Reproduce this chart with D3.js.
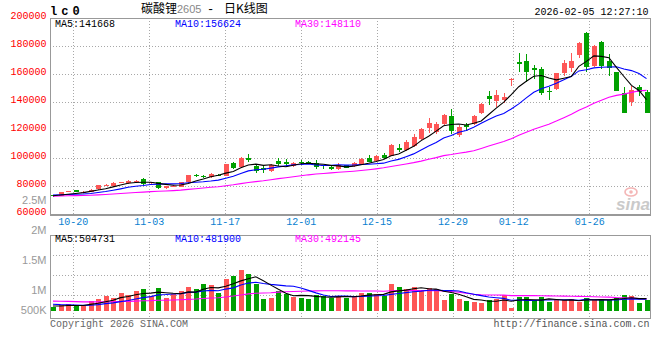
<!DOCTYPE html>
<html><head><meta charset="utf-8">
<script src="https://cdn.jsdelivr.net/npm/d3@7"></script>
<style>body{margin:0;background:#fff}svg{display:block}</style>
</head><body><svg id="c" width="660" height="360"></svg>
<script>
// ---- data ----
const tickLabels = ["10-20","11-03","11-17","12-01","12-15","12-29","01-12","01-26"];
const tickIndex  = [3,13,23,33,43,53,61,71];
const priceTicks = [200000,180000,160000,140000,120000,100000,80000,60000];
const volTicks = [2500000,2000000,1500000,1000000,500000];
const volTickLabels = ["2.5M","2M","1.5M","1M","500K"];
const priceLegend = ["MA5:141668","MA10:156624","MA30:148110"];
const volLegend = ["MA5:504731","MA10:481900","MA30:492145"];

const open  = [73500,73300,76000,77400,76000,75900,77900,80500,80300,82700,82400,83600,85200,82600,82800,78600,80200,79700,82900,88000,
               87600,86400,88300,87600,96600,94000,100200,94700,92900,90900,98000,97300,94500,97500,97200,96900,95000,94000,92100,95000,
               94300,95900,100200,97900,102300,101900,107300,105900,108800,113800,121900,118600,124300,130400,116600,123800,124500,132100,144500,140900,
               141400,156700,169000,169500,164700,163800,148300,149500,160700,164700,173800,189700,166100,182900,169500,161900,146900,140000,151100,147600];
const high  = [74000,76000,76700,77700,76600,77900,81000,81400,83200,83400,84200,84500,85800,83300,83000,80500,81000,83300,88300,88600,
               88300,89800,89000,96200,97500,100800,103000,96200,94300,95800,100000,99300,97600,99000,98000,98500,95500,94500,96500,95500,
               97300,100500,102400,102200,103500,110000,110200,113000,117300,121500,128800,126000,132000,135200,123500,125500,131000,139300,147900,148500,
               147000,157200,175000,174300,166500,165000,151100,161000,170000,175400,183000,190000,181000,183600,174500,162000,151000,151900,152400,148500];
const low   = [72500,73000,75600,75600,75700,75600,77500,80000,80000,82300,82000,83000,81000,82000,78000,78300,79800,79400,82600,86600,
               86200,86000,87300,87300,92500,93600,97600,89800,89800,90500,94500,93600,93500,95400,95800,92500,92300,92000,91500,92800,
               93800,95500,97300,97500,99500,101500,104500,105300,108100,113000,118300,117500,123800,117400,115500,119500,124000,131500,138000,137000,
               139500,151800,161900,154700,157000,145000,141600,148500,159000,161900,171500,162000,165000,163600,158800,148000,132500,137400,144500,132500];
const close = [73000,75900,76300,75900,76200,77600,80700,80700,82700,82900,83800,83700,81500,82800,78600,80200,80400,82900,88100,87400,
               87100,88600,88000,95900,93300,100200,98800,90900,91400,95400,96100,95900,96400,97000,96800,94000,94400,92400,95200,93300,
               96600,99700,97600,101600,100400,109500,106000,111600,115200,120900,125200,124300,130900,119300,122600,122100,130400,138800,142600,145200,
               143800,157000,167100,161900,163300,146400,147900,160700,167900,169500,182600,165400,180400,166100,164800,148300,132600,148800,147600,132600];
const volume = [164000,234000,303000,221000,193000,398000,480000,615000,521000,726000,644000,808000,890000,603000,931000,521000,685000,808000,972000,890000,
                1095000,1054000,726000,1300000,1423000,1669000,1505000,1123000,480000,521000,820000,713000,590000,549000,480000,656000,603000,549000,603000,549000,
                603000,754000,738000,685000,631000,1107000,972000,890000,972000,808000,931000,890000,451000,697000,480000,398000,357000,316000,439000,492000,
                644000,111000,562000,562000,439000,562000,357000,439000,439000,492000,385000,521000,439000,492000,439000,533000,644000,603000,316000,439000];
// sessions before the visible window (estimated so the moving averages start where the picture shows them)
const preCloses = [71800,72300,72600,72100,72900,73300,72800,72400,72200,72700,73000,72500,72100,72400,72900,73100,72600,72300,72200,72600,
                   74000,74600,74800,74200,73900,73600,73400,73300,73200];
const preVolumes = [490000,450000,520000,440000,480000,460000,500000,430000,470000,510000,450000,480000,460000,490000,440000,470000,500000,460000,480000,470000,
                    380000,360000,340000,330000,315000,230000,220000,210000,201000];

// ---- helpers ----
function movingAvg(pre, arr, n){
  const all = pre.concat(arr), off = pre.length;
  return arr.map((_, i) => d3.mean(all.slice(off + i - n + 1, off + i + 1)));
}
const svg = d3.select("#c");
const L = 50, R = 650, mTop = 18.3, mBot = 214.3, vTop = 234.5, vBot = 318, vBase = 311;
const N = close.length;
const xC = d3.scaleLinear().domain([0, N-1]).range([53, 646.5]);
const xG = d3.scaleLinear().domain([0, N-1]).range([L, R]);
const y = d3.scaleLinear().domain([60000, 200000]).range([mBot, mTop]);
const yV = d3.scaleLinear().domain([0, 2000000]).range([vBase, vBase - 48.8]);
const yVLab = d3.scaleLinear().domain([0, 2500000]).range([354, 204]);
const UP = "#fe5656", DOWN = "#00a000";
const MONO = "'Liberation Mono','DejaVu Sans Mono',monospace";
const SANS = "'Liberation Sans',Arial,sans-serif";
const CJK = "'Noto Sans CJK SC',sans-serif";

// ---- header ----
svg.append("text").attr("x", 50).attr("y", 15).attr("font-family", MONO).attr("font-weight", "bold")
  .attr("font-size", 12).attr("letter-spacing", 4).text("lc0");
svg.append("text").attr("x", 141).attr("y", 12.5).attr("font-family", CJK).attr("font-size", 12).text("碳酸锂");
svg.append("text").attr("x", 177).attr("y", 12.5).attr("font-family", SANS).attr("font-size", 11).attr("fill", "#888").text("2605");
svg.append("text").attr("x", 207).attr("y", 12.5).attr("font-family", MONO).attr("font-size", 12).text("-");
svg.append("text").attr("x", 224).attr("y", 12.5).attr("font-family", CJK).attr("font-size", 12).text("日K线图");
svg.append("text").attr("x", 648.5).attr("y", 15).attr("text-anchor", "end").attr("font-family", MONO)
  .attr("font-size", 10).text("2026-02-05 12:27:10");

// ---- grids ----
const g = svg.append("g").attr("shape-rendering", "crispEdges");
priceTicks.filter(v => v < 200000 && v > 60000).forEach(v => {
  g.append("line").attr("x1", L).attr("x2", R).attr("y1", Math.round(y(v)) + 0.5).attr("y2", Math.round(y(v)) + 0.5)
    .attr("stroke", "#a8a8a8").attr("stroke-dasharray", "1,2");
});
tickIndex.forEach(i => {
  const gx = Math.round(xG(i)) + 0.5;
  g.append("line").attr("x1", gx).attr("x2", gx).attr("y1", mTop).attr("y2", mBot).attr("stroke", "#a8a8a8").attr("stroke-dasharray", "1,2");
  g.append("line").attr("x1", gx).attr("x2", gx).attr("y1", vTop).attr("y2", vBot).attr("stroke", "#a8a8a8").attr("stroke-dasharray", "1,2");
});
[255, 275, 295].forEach(yy => {
  g.append("line").attr("x1", L).attr("x2", R).attr("y1", yy + 0.5).attr("y2", yy + 0.5).attr("stroke", "#a8a8a8").attr("stroke-dasharray", "1,2");
});
g.append("rect").attr("x", L + 0.5).attr("y", Math.round(mTop) + 0.5).attr("width", R - L).attr("height", Math.round(mBot) - Math.round(mTop))
  .attr("fill", "none").attr("stroke", "#999");
g.append("line").attr("x1", L).attr("x2", R+1).attr("y1", Math.round(mBot) + 1.5).attr("y2", Math.round(mBot) + 1.5).attr("stroke", "#999");
g.append("rect").attr("x", L + 0.5).attr("y", Math.round(vTop) + 0.5).attr("width", R - L).attr("height", vBot - Math.round(vTop))
  .attr("fill", "none").attr("stroke", "#999");

// ---- axis labels ----
priceTicks.forEach(v => {
  svg.append("text").attr("x", 46.5).attr("y", y(v) + 0.8).attr("text-anchor", "end").attr("font-family", MONO)
    .attr("font-size", 10).attr("fill", "#f00").text(d3.format("d")(v));
});
volTicks.forEach((v, k) => {
  svg.append("text").attr("x", 46.5).attr("y", Math.min(yVLab(v), 314)).attr("text-anchor", "end")
    .attr("font-family", SANS).attr("font-size", 11).attr("fill", "#999").text(volTickLabels[k]);
});
tickIndex.forEach((i, k) => {
  svg.append("text").attr("x", xG(i) + 0.5).attr("y", 224.5).attr("text-anchor", "middle").attr("font-family", MONO)
    .attr("font-size", 10).attr("fill", "#0a7fd0").text(tickLabels[k]);
});

// ---- watermark ----
const wm = svg.append("g").attr("opacity", 0.8);
wm.append("ellipse").attr("cx", 631).attr("cy", 192).attr("rx", 6).attr("ry", 4).attr("fill", "none").attr("stroke", "#f2a4a4").attr("stroke-width", 1.6);
wm.append("circle").attr("cx", 631).attr("cy", 192).attr("r", 1.8).attr("fill", "#f2a4a4");
wm.append("text").attr("x", 616).attr("y", 210).attr("font-family", SANS).attr("font-style", "italic")
  .attr("font-weight", "bold").attr("font-size", 17).attr("fill", "#bdbdbd").text("sina");

// ---- candles ----
const cg = svg.append("g").attr("shape-rendering", "crispEdges");
d3.range(N).forEach(i => {
  const up = close[i] >= open[i], col = up ? UP : DOWN;
  const cx = Math.round(xC(i));
  cg.append("line").attr("x1", cx + 0.5).attr("x2", cx + 0.5).attr("y1", y(high[i])).attr("y2", y(low[i])).attr("stroke", col);
  const top = y(Math.max(open[i], close[i])), bot = y(Math.min(open[i], close[i]));
  cg.append("rect").attr("x", cx - 2).attr("width", 5).attr("y", top).attr("height", Math.max(1, bot - top)).attr("fill", col);
});

// ---- price MAs ----
const ma5 = movingAvg(preCloses, close, 5), ma10 = movingAvg(preCloses, close, 10), ma30 = movingAvg(preCloses, close, 30);
const line = d3.line().x((d, i) => xC(i)).y(d => y(d));
[[ma30, "#f0f"], [ma10, "#00f"], [ma5, "#000"]].forEach(([s, c]) => {
  svg.append("path").attr("d", line(s)).attr("fill", "none").attr("stroke", c).attr("stroke-width", 1.1);
});
const legX = [55, 175, 295], legC = ["#000", "#00f", "#f0f"];
priceLegend.forEach((t, k) => svg.append("text").attr("x", legX[k]).attr("y", 26.8).attr("font-family", MONO).attr("font-size", 10).attr("fill", legC[k]).text(t));

// ---- volume ----
const vg = svg.append("g").attr("shape-rendering", "crispEdges");
d3.range(N).forEach(i => {
  const col = close[i] >= open[i] ? UP : DOWN;
  const cx = Math.round(xC(i));
  vg.append("rect").attr("x", cx - 2).attr("width", 5).attr("y", yV(volume[i])).attr("height", vBase - yV(volume[i])).attr("fill", col);
});
const vma5 = movingAvg(preVolumes, volume, 5), vma10 = movingAvg(preVolumes, volume, 10), vma30 = movingAvg(preVolumes, volume, 30);
const vline = d3.line().x((d, i) => xC(i)).y(d => yV(d));
[[vma30, "#f0f"], [vma10, "#00f"], [vma5, "#000"]].forEach(([s, c]) => {
  svg.append("path").attr("d", vline(s)).attr("fill", "none").attr("stroke", c).attr("stroke-width", 1.1);
});
volLegend.forEach((t, k) => svg.append("text").attr("x", legX[k]).attr("y", 241.8).attr("font-family", MONO).attr("font-size", 10).attr("fill", legC[k]).text(t));

// ---- footer ----
svg.append("text").attr("x", 50).attr("y", 327).attr("font-family", MONO).attr("font-size", 10).attr("fill", "#666").text("Copyright 2026 SINA.COM");
svg.append("text").attr("x", 649.5).attr("y", 327).attr("text-anchor", "end").attr("font-family", MONO).attr("font-size", 10).attr("fill", "#555").text("http://finance.sina.com.cn");
</script></body></html>
